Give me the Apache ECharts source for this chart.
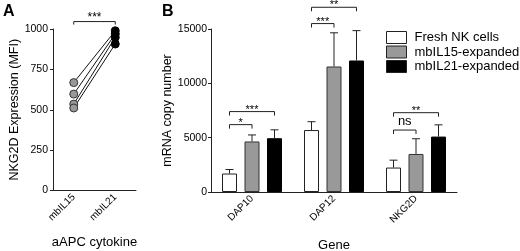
<html>
<head>
    <meta charset="utf-8">
    <script type="text/javascript" src="https://cdn.jsdelivr.net/npm/echarts@6/dist/echarts.min.js"></script>
    <style>
        html, body { margin: 0; padding: 0; background: #fff; }
        #Chart { width: 520px; height: 251px; }
    </style>
    <title>NKG2D / mRNA</title>
</head>
<body>
<div id="Chart"></div>
<script>
    // panel A data
    var aapcCats = ['mbIL15', 'mbIL21'];
    var mfiIL15 = [668, 597, 535, 511];
    var mfiIL21 = [989, 969, 948, 907];
    var sigALevel = 1046;
    var sigAText = '***';

    // panel B data
    var genes = ['DAP10', 'DAP12', 'NKG2D'];
    var groupNames = ['Fresh NK cells', 'mbIL15-expanded', 'mbIL21-expanded'];
    var freshMean = [1700, 5700, 2250];
    var il15Mean = [4650, 11550, 3500];
    var il21Mean = [4950, 12100, 5100];
    var freshErr = [370, 770, 680];
    var il15Err = [600, 3100, 1400];
    var il21Err = [770, 2750, 1080];
    // significance brackets: gene index, target bar (1 = mbIL15, 2 = mbIL21), level, text
    var sigGene = [0, 0, 1, 1, 2, 2];
    var sigToBar = [1, 2, 1, 2, 1, 2];
    var sigLevel = [6200, 7400, 15500, 17000, 5700, 7300];
    var sigText = ['*', '***', '***', '**', 'ns', '**'];

    var FONT = 'Liberation Sans, Arial, sans-serif';
    var BAR_W = 15;
    var BAR_STEP = 22.5;
    var AXIS_COLOR = '#222';

    var chart = echarts.init(document.getElementById('Chart'));

    // 连线 + 圆点
    var lineSeries = mfiIL15.map(function (v, i) {
        return {
            type: 'line', xAxisIndex: 0, yAxisIndex: 0,
            data: [v, mfiIL21[i]],
            symbol: 'none', z: 2,
            lineStyle: { color: '#111', width: 1 }
        };
    });

    var means = [freshMean, il15Mean, il21Mean];
    var errs = [freshErr, il15Err, il21Err];
    var errData = [];
    genes.forEach(function (g, gi) {
        for (var s = 0; s < 3; s++) {
            errData.push([gi, s, means[s][gi], errs[s][gi]]);
        }
    });
    var sigData = sigGene.map(function (g, i) { return [g, sigToBar[i], sigLevel[i]]; });

    function lineEl(x1, y1, x2, y2) {
        return { type: 'line', shape: { x1: x1, y1: y1, x2: x2, y2: y2 },
                 style: { stroke: AXIS_COLOR, lineWidth: 1 } };
    }
    function plain(v) { return String(v); }

    var option = {
        animation: false,
        textStyle: { fontFamily: FONT, color: '#000' },
        graphic: [
            { type: 'text', left: 3, top: 4, style: { text: 'A', font: 'bold 16px ' + FONT, fill: '#000' } },
            { type: 'text', left: 162, top: 4, style: { text: 'B', font: 'bold 16px ' + FONT, fill: '#000' } }
        ],
        legend: {
            data: groupNames,
            orient: 'vertical',
            left: 381, top: 26,
            itemWidth: 20, itemHeight: 12, itemGap: 1.5,
            icon: 'rect',
            itemStyle: { borderColor: '#222', borderWidth: 1 },
            textStyle: { fontSize: 13, color: '#000', fontFamily: FONT, padding: [0, 0, 0, 3] }
        },
        grid: [
            { left: 53, top: 29, width: 83, height: 161.5, outerBoundsMode: 'none', containLabel: false },
            { left: 211, top: 29, width: 246, height: 163, outerBoundsMode: 'none', containLabel: false }
        ],
        xAxis: [
            {
                type: 'category', gridIndex: 0, data: aapcCats,
                name: 'aAPC cytokine', nameLocation: 'middle', nameGap: 45,
                nameTextStyle: { fontSize: 13, color: '#000' },
                axisLine: { lineStyle: { color: AXIS_COLOR } },
                axisTick: { alignWithLabel: true, length: 3, lineStyle: { color: AXIS_COLOR } },
                axisLabel: { rotate: 45, fontSize: 10, margin: 5, color: '#000' }
            },
            {
                type: 'category', gridIndex: 1, data: genes,
                name: 'Gene', nameLocation: 'middle', nameGap: 47,
                nameTextStyle: { fontSize: 13, color: '#000' },
                axisLine: { lineStyle: { color: AXIS_COLOR } },
                axisTick: { alignWithLabel: true, length: 3, lineStyle: { color: AXIS_COLOR } },
                axisLabel: { rotate: 45, fontSize: 10, margin: 5, color: '#000' }
            }
        ],
        yAxis: [
            {
                type: 'value', gridIndex: 0, min: 0, max: 1000, interval: 250,
                name: 'NKG2D Expression (MFI)', nameLocation: 'middle', nameGap: 32,
                nameTextStyle: { fontSize: 12.5, color: '#000' },
                axisLine: { show: true, lineStyle: { color: AXIS_COLOR } },
                axisTick: { show: true, length: 3, lineStyle: { color: AXIS_COLOR } },
                axisLabel: { fontSize: 10.5, margin: 5, color: '#000', formatter: plain },
                splitLine: { show: false }
            },
            {
                type: 'value', gridIndex: 1, min: 0, max: 15000, interval: 5000,
                name: 'mRNA copy number', nameLocation: 'middle', nameGap: 37,
                nameTextStyle: { fontSize: 12.5, color: '#000' },
                axisLine: { show: true, lineStyle: { color: AXIS_COLOR } },
                axisTick: { show: true, length: 3, lineStyle: { color: AXIS_COLOR } },
                axisLabel: { fontSize: 10.5, margin: 4, color: '#000', formatter: plain },
                splitLine: { show: false }
            }
        ],
        series: lineSeries.concat([
            {
                type: 'scatter', xAxisIndex: 0, yAxisIndex: 0, z: 3,
                data: mfiIL15.map(function (v) { return [0, v]; }),
                symbolSize: 8,
                itemStyle: { color: '#999', borderColor: '#333', borderWidth: 1, opacity: 1 }
            },
            {
                type: 'scatter', xAxisIndex: 0, yAxisIndex: 0, z: 3,
                data: mfiIL21.map(function (v) { return [1, v]; }),
                symbolSize: 8,
                itemStyle: { color: '#000', borderColor: '#000', borderWidth: 1, opacity: 1 }
            },
            {
                // 显著性标记 A
                type: 'custom', xAxisIndex: 0, yAxisIndex: 0,
                data: [[0, 1, sigALevel]],
                encode: { x: 0, y: 2 },
                renderItem: function (params, api) {
                    var p0 = api.coord([api.value(0), api.value(2)]);
                    var p1 = api.coord([api.value(1), api.value(2)]);
                    return { type: 'group', children: [
                        lineEl(p0[0], p0[1], p1[0], p1[1]),
                        lineEl(p0[0], p0[1], p0[0], p0[1] + 3),
                        lineEl(p1[0], p1[1], p1[0], p1[1] + 3),
                        { type: 'text', style: { text: sigAText, x: (p0[0] + p1[0]) / 2, y: p0[1] - 4,
                          align: 'center', verticalAlign: 'middle', font: '12px ' + FONT, fill: '#000' } }
                    ] };
                }
            },
            {
                name: groupNames[0], type: 'bar', xAxisIndex: 1, yAxisIndex: 1,
                data: freshMean, barWidth: BAR_W, barGap: '50%',
                itemStyle: { color: '#fff', borderColor: '#222', borderWidth: 1 }
            },
            {
                name: groupNames[1], type: 'bar', xAxisIndex: 1, yAxisIndex: 1,
                data: il15Mean, barWidth: BAR_W, barGap: '50%',
                itemStyle: { color: '#999', borderColor: '#333', borderWidth: 1 }
            },
            {
                name: groupNames[2], type: 'bar', xAxisIndex: 1, yAxisIndex: 1,
                data: il21Mean, barWidth: BAR_W, barGap: '50%',
                itemStyle: { color: '#000', borderColor: '#000', borderWidth: 1 }
            },
            {
                // 误差线
                type: 'custom', xAxisIndex: 1, yAxisIndex: 1, z: 5,
                data: errData,
                encode: { x: 0, y: 2 },
                renderItem: function (params, api) {
                    var g = api.value(0), s = api.value(1), m = api.value(2), e = api.value(3);
                    var base = api.coord([g, m]);
                    var top = api.coord([g, m + e]);
                    var x = base[0] + (s - 1) * BAR_STEP;
                    return { type: 'group', children: [
                        lineEl(x, base[1], x, top[1]),
                        lineEl(x - 4, top[1], x + 4, top[1])
                    ] };
                }
            },
            {
                // 显著性标记 B
                type: 'custom', xAxisIndex: 1, yAxisIndex: 1, z: 5,
                data: sigData,
                encode: { x: 0, y: 2 },
                renderItem: function (params, api) {
                    var g = api.value(0), to = api.value(1), lv = api.value(2);
                    var c = api.coord([g, lv]);
                    var x0 = c[0] - BAR_STEP;
                    var x1 = c[0] + (to - 1) * BAR_STEP;
                    var txt = sigText[params.dataIndex];
                    var isNs = txt === 'ns';
                    return { type: 'group', children: [
                        lineEl(x0, c[1], x1, c[1]),
                        lineEl(x0, c[1], x0, c[1] + 4),
                        lineEl(x1, c[1], x1, c[1] + 4),
                        { type: 'text', style: { text: txt, x: (x0 + x1) / 2, y: isNs ? c[1] - 9 : c[1] - 2,
                          align: 'center', verticalAlign: 'middle',
                          font: (isNs ? '13px ' : '11px ') + FONT, fill: '#000' } }
                    ] };
                }
            }
        ])
    };
    chart.setOption(option);
</script>
</body>
</html>
